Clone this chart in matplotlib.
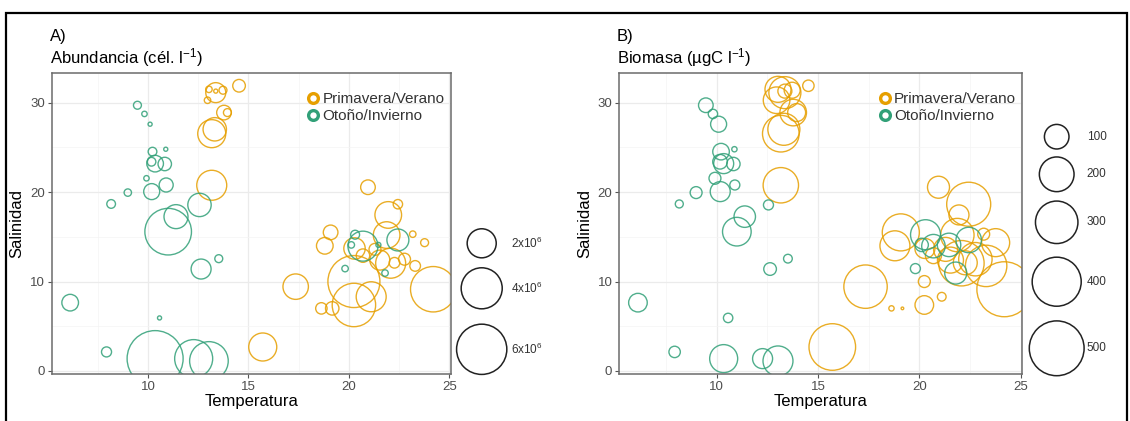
import numpy as np
import matplotlib
matplotlib.use("Agg")
import matplotlib.pyplot as plt
from matplotlib.lines import Line2D
from matplotlib.patches import Rectangle

plt.rcParams['font.family'] = ['Liberation Sans', 'DejaVu Sans']
plt.rcParams['mathtext.fontset'] = 'custom'
plt.rcParams['mathtext.rm'] = 'Liberation Sans'
plt.rcParams['mathtext.it'] = 'Liberation Sans'

# ---- data ----------------------------------------------------------------
# Otoño/Invierno
temp_oi = [6.12, 9.47, 9.82, 10.10, 10.22, 10.88, 10.17, 10.35, 10.83, 9.92,
           10.90, 10.18, 8.99, 8.16, 11.39, 11.00, 12.56, 12.64, 13.52, 10.57,
           7.93, 10.35, 12.27, 13.03, 20.70, 22.44, 20.12, 19.81, 21.80, 20.31,
           21.47]
sal_oi = [7.64, 29.72, 28.75, 27.60, 24.53, 24.80, 23.40, 23.19, 23.15, 21.55,
          20.80, 20.06, 19.95, 18.68, 17.26, 15.58, 18.57, 11.40, 12.56, 5.93,
          2.13, 1.38, 1.38, 1.12, 13.96, 14.65, 14.10, 11.45, 10.95, 15.24,
          14.10]
abund_oi = [0.65, 0.14, 0.06, 0.03, 0.17, 0.03, 0.17, 0.65, 0.42, 0.06,
            0.46, 0.60, 0.12, 0.17, 1.36, 5.16, 1.29, 0.94, 0.14, 0.03,
            0.23, 7.46, 3.43, 3.54, 2.13, 1.14, 0.09, 0.09, 0.09, 0.18,
            0.05]  # x10^6 cel/l
biom_oi = [57, 35, 14, 42, 45, 4, 35, 66, 29, 23,
           16, 66, 23, 10, 76, 136, 16, 26, 12, 14,
           21, 130, 66, 149, 91, 107, 29, 16, 80, 149,
           91]

# Primavera/Verano
temp_pv = [14.53, 13.37, 13.03, 13.73, 13.37, 12.96, 13.78, 13.95, 13.17, 13.32,
           13.17, 15.71, 20.95, 22.44, 21.96, 19.09, 18.80, 23.18, 23.77, 21.88,
           20.28, 20.70, 21.30, 21.54, 22.08, 22.27, 22.77, 23.30, 20.25, 20.25,
           21.11, 17.35, 18.63, 19.17, 24.20]
sal_pv = [31.90, 31.13, 31.50, 31.40, 31.30, 30.28, 28.90, 28.90, 26.54, 27.03,
          20.77, 2.68, 20.55, 18.65, 17.45, 15.50, 14.00, 15.30, 14.35, 15.20,
          13.70, 12.90, 13.60, 12.40, 12.05, 12.10, 12.50, 11.75, 10.00, 7.38,
          8.30, 9.43, 7.00, 7.00, 9.14]
abund_pv = [0.37, 0.94, 0.09, 0.14, 0.03, 0.09, 0.50, 0.14, 1.86, 1.29,
            2.13, 1.86, 0.50, 0.20, 1.68, 0.50, 0.65, 0.09, 0.14, 1.68,
            1.08, 0.42, 0.33, 0.94, 2.13, 0.26, 0.33, 0.26, 6.43, 4.48,
            2.13, 1.53, 0.30, 0.42, 4.90]
biom_pv = [21, 170, 112, 42, 32, 117, 117, 53, 223, 170,
           208, 361, 80, 322, 66, 228, 149, 23, 130, 185,
           66, 42, 95, 112, 343, 95, 185, 285, 23, 57,
           12, 313, 4, 0.5, 503]

abund_breaks = [2e6, 4e6, 6e6]
abund_labels = ['2x10$^6$', '4x10$^6$', '6x10$^6$']
biom_breaks = [100, 200, 300, 400, 500]

c_pv = '#E69F00'
c_oi = '#31A078'
DPI = 100
W, H = 1130, 421


def s_abund(v):
    r = np.sqrt(1 + 105 * np.asarray(v) / 1e6)      # radius in px
    return (2 * r * 72 / DPI) ** 2


def s_biom(v):
    r = np.sqrt(1 + 1.5 * np.asarray(v))
    return (2 * r * 72 / DPI) ** 2


fig = plt.figure(figsize=(W / DPI, H / DPI), dpi=DPI)


def px_axes(l, t, r, b):
    return fig.add_axes([l / W, 1 - b / H, (r - l) / W, (b - t) / H])


def style(ax):
    ax.set_xlim(5.2, 25.07)
    ax.set_ylim(-0.34, 33.36)
    ax.set_xticks([10, 15, 20, 25])
    ax.set_yticks([0, 10, 20, 30])
    ax.set_xticks([7.5, 12.5, 17.5, 22.5], minor=True)
    ax.set_yticks([5, 15, 25], minor=True)
    ax.grid(which='major', color='#EBEBEB', lw=0.9)
    ax.grid(which='minor', color='#F4F4F4', lw=0.5)
    ax.set_axisbelow(True)
    ax.tick_params(which='minor', length=0)
    ax.tick_params(which='major', length=3, color='#555555', width=0.8,
                   labelsize=9.5, labelcolor='#4D4D4D', pad=2)
    for sp in ax.spines.values():
        sp.set_color('#6B6B6B')
        sp.set_linewidth(1.1)
    ax.set_xlabel('Temperatura', fontsize=12, labelpad=1)
    ax.set_ylabel('Salinidad', fontsize=12, labelpad=4)


axA = px_axes(51.7, 72.7, 450.7, 374)
axB = px_axes(619.3, 72.7, 1022, 374)

abund_oi_c = np.array(abund_oi) * 1e6
abund_pv_c = np.array(abund_pv) * 1e6

axA.scatter(temp_pv, sal_pv, s=s_abund(abund_pv_c), facecolors='none',
            edgecolors=c_pv, linewidths=1.0, alpha=0.85)
axA.scatter(temp_oi, sal_oi, s=s_abund(abund_oi_c), facecolors='none',
            edgecolors=c_oi, linewidths=1.0, alpha=0.85)
axB.scatter(temp_pv, sal_pv, s=s_biom(biom_pv), facecolors='none',
            edgecolors=c_pv, linewidths=1.0, alpha=0.85)
axB.scatter(temp_oi, sal_oi, s=s_biom(biom_oi), facecolors='none',
            edgecolors=c_oi, linewidths=1.0, alpha=0.85)

for ax in (axA, axB):
    style(ax)
    handles = [Line2D([], [], ls='', marker='o', ms=7, mfc='none', mec=c_pv, mew=2.4),
               Line2D([], [], ls='', marker='o', ms=7, mfc='none', mec=c_oi, mew=2.4)]
    leg = ax.legend(handles, ['Primavera/Verano', 'Otoño/Invierno'],
                    loc='upper right', bbox_to_anchor=(1.0, 0.955), frameon=False,
                    fontsize=11, handlelength=0.9, handletextpad=0.15,
                    labelspacing=0.2, borderaxespad=0.2, borderpad=0.2)
    for t in leg.get_texts():
        t.set_color('#333333')

# titles
fig.text(50 / W, 1 - 36 / H, 'A)', fontsize=12, va='center', ha='left')
fig.text(50 / W, 1 - 58 / H, 'Abundancia (cél. l$^{-1}$)', fontsize=12, va='center', ha='left')
fig.text(617 / W, 1 - 36 / H, 'B)', fontsize=12, va='center', ha='left')
fig.text(617 / W, 1 - 58 / H, 'Biomasa (µgC l$^{-1}$)', fontsize=12, va='center', ha='left')

# size legends in pixel coordinates
over = fig.add_axes([0, 0, 1, 1])
over.set_xlim(0, W)
over.set_ylim(H, 0)
over.axis('off')

ya = [243.3, 288.3, 349.3]
over.scatter([481.7] * 3, ya, s=s_abund(abund_breaks), facecolors='none',
             edgecolors='#222222', linewidths=1.1)
for y, lab in zip(ya, abund_labels):
    over.text(511, y, lab, fontsize=8.5, va='center', ha='left', color='#333333')

yb = [136.7, 174.3, 222.3, 281.7, 348.3]
over.scatter([1056.7] * 5, yb, s=s_biom(biom_breaks), facecolors='none',
             edgecolors='#222222', linewidths=1.1)
for y, v in zip(yb, biom_breaks):
    over.text(1086.7, y, str(v), fontsize=8.5, va='center', ha='left', color='#333333')

# outer frame
fig.patches.append(Rectangle((6 / W, -0.2), 1121 / W, 1.2 - 13 / H, fill=False,
                             lw=1.6, ec='black', transform=fig.transFigure))

fig.savefig('out.png', dpi=DPI)
